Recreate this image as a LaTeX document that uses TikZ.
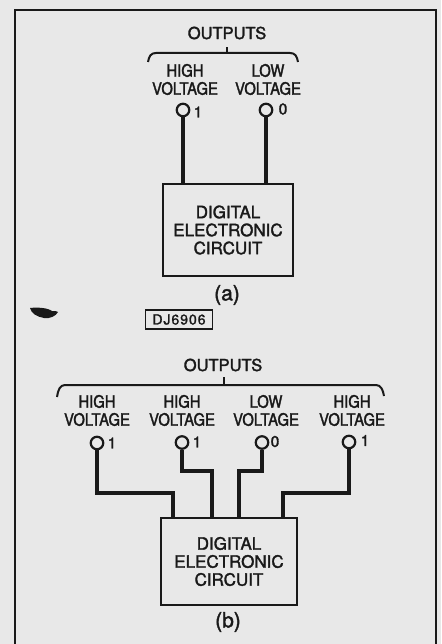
\documentclass[tikz,border=0pt]{standalone}
\usepackage{fontspec}
\setmainfont[FakeBold=1.8]{TeX Gyre Heros}
\newfontfamily\narrowfont[FakeStretch=0.87,FakeBold=1.8]{TeX Gyre Heros}
\newfontfamily\tagfont[LetterSpace=7,FakeBold=1.5]{TeX Gyre Heros}
\definecolor{bgcol}{RGB}{232,232,232}
\definecolor{ink}{RGB}{25,25,25}
\begin{document}
\begin{tikzpicture}[x=1pt,y=-1pt,
  txt/.style={inner sep=0pt, align=center, text=ink, font=\fontsize{16.5}{18}\selectfont},
  lab/.style={inner sep=0pt, align=center, text=ink, font=\narrowfont\fontsize{17}{18}\selectfont},
  digit/.style={inner sep=0pt, text=ink, font=\fontsize{15.5}{18}\selectfont},
  term/.style={circle, draw=ink, line width=2.2pt, minimum size=12.5pt, inner sep=0pt},
  cbox/.style={draw=ink, line width=2.5pt, align=center, text=ink, inner sep=0pt, font=\fontsize{17}{18}\selectfont},
  wire/.style={draw=ink, line width=3.5pt},
  bracestyle/.style={draw=ink, line width=2pt},
  frame/.style={draw=ink, line width=2pt},
  caption/.style={inner sep=0pt, text=ink, font=\fontsize{21}{22}\selectfont},
  tagbox/.style={draw=ink, line width=1.5pt, inner sep=0pt, minimum width=67pt, minimum height=19pt, text=ink, font=\tagfont\fontsize{14}{14}\selectfont}
]
\fill[bgcol] (0,0) rectangle (441,644);
\useasboundingbox (0,0) rectangle (441,644);
\draw[frame] (15,646) -- (15,10) -- (436,10) -- (436,646);

% ---------- (a) ----------
\node[txt] (outa) at (227,33) {OUTPUTS};
\draw[bracestyle] (148,62) .. controls (149,56) and (151,53) .. (156,53) -- (290,53) .. controls (295,53) and (297,56) .. (298,62);
\coordinate (bta) at (227,53);
\draw[bracestyle] (bta) -- ++(0,-6);
\node[lab] (ha) at (185,79.5) {HIGH\\VOLTAGE};
\node[lab] (la) at (268,79.5) {LOW\\VOLTAGE};
\node[term] (ta1) at (183,110) {};
\node[digit] (na1) at (198,112) {1};
\node[term] (ta0) at (266,110) {};
\node[digit] (na0) at (283,109) {0};
\node[cbox, minimum width=130pt, minimum height=92pt] (boxa) at (228,230) {DIGITAL\\ELECTRONIC\\CIRCUIT};
\draw[wire] (ta1.south) -- (ta1.south |- boxa.north);
\draw[wire] (ta0.south) -- (ta0.south |- boxa.north);
\node[caption] (capa) at (227,295) {(a)};

% blot and tag
\fill[ink] (30,308) .. controls (38,307) and (48,308) .. (52,311) .. controls (55,311) and (57,311) .. (58,312) .. controls (56,316) and (50,319) .. (44,318) .. controls (37,317) and (31,313) .. cycle;
\node[tagbox] (tag) at (179,319.5) {DJ6906};

% ---------- (b) ----------
\node[txt] (outb) at (223,365) {OUTPUTS};
\draw[bracestyle] (57,397) .. controls (58,390) and (60,385) .. (65,385) -- (376,385) .. controls (381,385) and (383,390) .. (384,396);
\coordinate (btb) at (224,385);
\draw[bracestyle] (btb) -- ++(0,-8);
\node[lab] (hb1) at (97,410.5) {HIGH\\VOLTAGE};
\node[lab] (hb2) at (182,410.5) {HIGH\\VOLTAGE};
\node[lab] (lb3) at (266,410.5) {LOW\\VOLTAGE};
\node[lab] (hb4) at (352,410.5) {HIGH\\VOLTAGE};
\node[term] (tb1) at (97,443) {};
\node[term] (tb2) at (182,442.5) {};
\node[term] (tb3) at (262,442.5) {};
\node[term] (tb4) at (349,442) {};
\node[digit] (nb1) at (112,443) {1};
\node[digit] (nb2) at (197,442) {1};
\node[digit] (nb3) at (275,441.5) {0};
\node[digit] (nb4) at (365,440.5) {1};
\node[cbox, minimum width=136pt, minimum height=87pt] (boxb) at (229,561.5) {DIGITAL\\ELECTRONIC\\CIRCUIT};
\coordinate (jb1) at (173,493);
\coordinate (jb2) at (212,471);
\coordinate (jb3) at (239,471);
\coordinate (jb4) at (283,493);
\draw[wire] (tb1.south) |- (jb1) -- (jb1 |- boxb.north);
\draw[wire] (tb2.south) |- (jb2) -- (jb2 |- boxb.north);
\draw[wire] (tb3.south) |- (jb3) -- (jb3 |- boxb.north);
\draw[wire] (tb4.south) |- (jb4) -- (jb4 |- boxb.north);
\node[caption] (capb) at (228,622) {(b)};
\end{tikzpicture}
\end{document}
